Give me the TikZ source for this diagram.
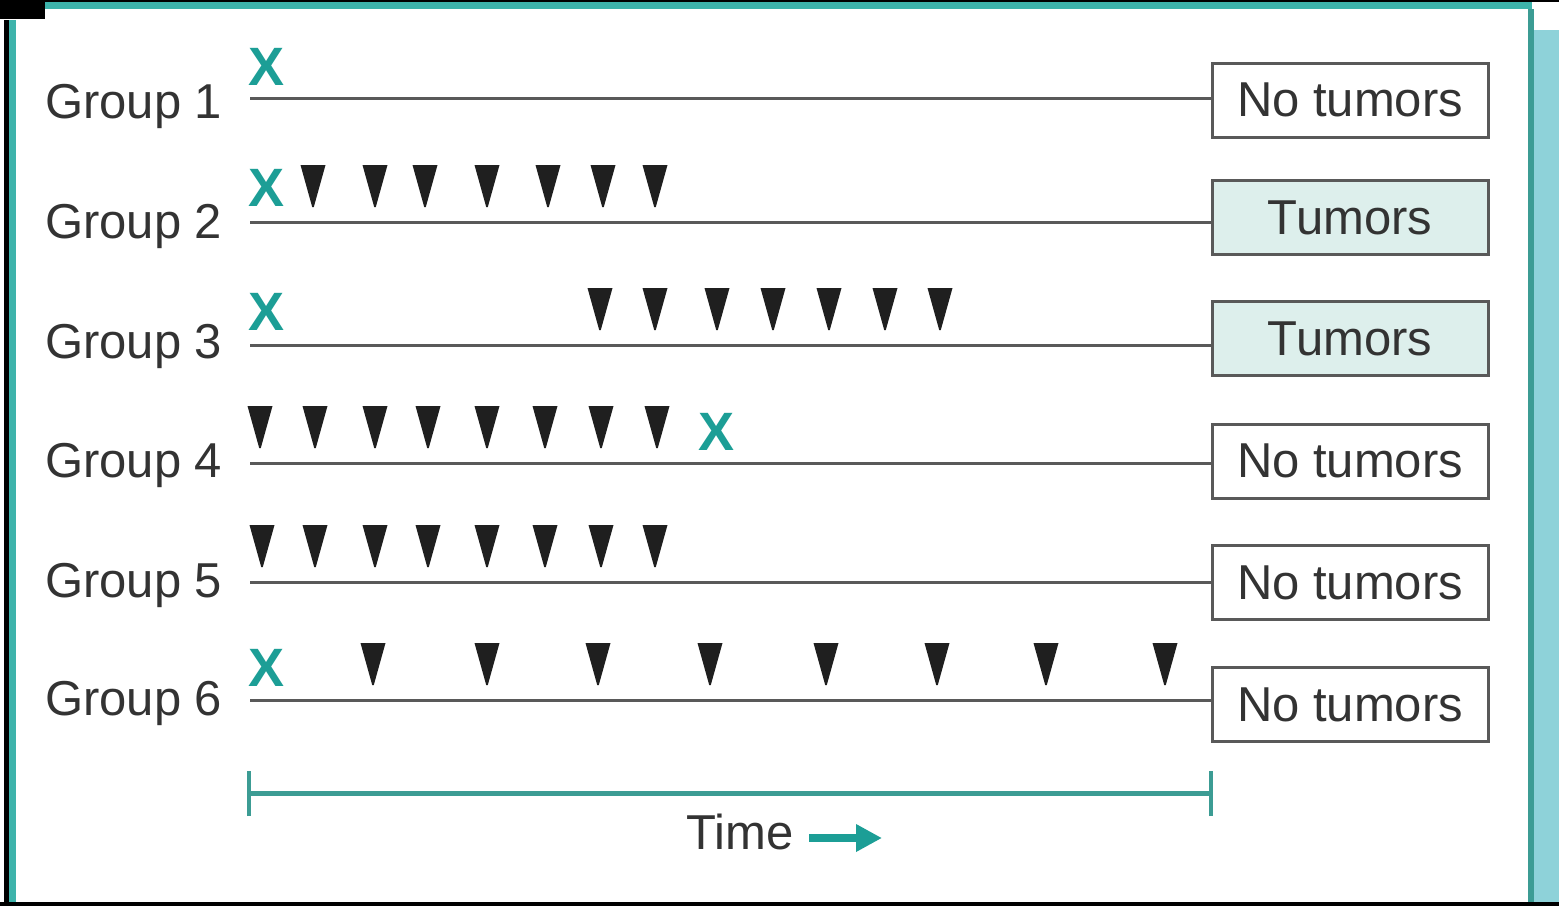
\documentclass[tikz,border=0pt]{standalone}
\usepackage{fontspec}
\setmainfont{Liberation Sans}
\usetikzlibrary{arrows.meta}
\definecolor{xteal}{HTML}{1C9E96}
\definecolor{frameteal}{HTML}{3DB3AB}
\definecolor{bandteal}{HTML}{8ED2D9}
\definecolor{tlteal}{HTML}{3C9C94}
\definecolor{boxfill}{HTML}{DDEFEC}
\definecolor{txt}{HTML}{333333}
\tikzset{
  grouplabel/.style={anchor=base west, inner sep=0pt, text=txt, font=\fontsize{49}{55}\selectfont},
  xmark/.style={inner sep=0pt, text=xteal, font=\fontsize{54}{60}\selectfont\bfseries},
  outcome/.style={draw=black!65, line width=3pt, minimum width=276pt, minimum height=74pt, inner sep=0pt, text=txt, font=\fontsize{49}{55}\selectfont},
  tumorbox/.style={outcome, fill=boxfill},
  plainbox/.style={outcome, fill=white},
  gline/.style={draw=black!65, line width=3pt},
  tri/.pic={\fill[black!88] (-12.5,-57) -- (12.5,-57) -- (0.8,-15) -- (-0.8,-15) -- cycle;}
}
\begin{document}
\begin{tikzpicture}[x=1pt,y=-1pt]
\useasboundingbox (0,0) rectangle (1559,906);
\fill[white] (0,0) rectangle (1559,906);
% frame
\fill[black] (0,0) rectangle (45,19);
\fill[black] (45,0) rectangle (1559,2);
\fill[frameteal] (45,2) rectangle (1532,9);
\fill[black] (4,20) rectangle (9,906);
\fill[frameteal] (9,20) rectangle (16,906);
\fill[bandteal] (1533,30) rectangle (1559,906);
\fill[tlteal] (1528,9) rectangle (1534,906);
\fill[black] (0,902) rectangle (1559,906);

% outcome boxes
\node[plainbox] (b1) at (1350,100) {No tumors};
\node[tumorbox] (b2) at (1350,217.5) {Tumors};
\node[tumorbox] (b3) at (1350,338.5) {Tumors};
\node[plainbox] (b4) at (1350,461) {No tumors};
\node[plainbox] (b5) at (1350,582.5) {No tumors};
\node[plainbox] (b6) at (1350,704.5) {No tumors};

% group labels
\node[grouplabel] (g1) at (45,118) {Group 1};
\node[grouplabel] (g2) at (45,238) {Group 2};
\node[grouplabel] (g3) at (45,358) {Group 3};
\node[grouplabel] (g4) at (45,477) {Group 4};
\node[grouplabel] (g5) at (45,597) {Group 5};
\node[grouplabel] (g6) at (45,715) {Group 6};

% lines
\coordinate (s1) at (250,98);
\coordinate (s2) at (250,222);
\coordinate (s3) at (250,345);
\coordinate (s4) at (250,463);
\coordinate (s5) at (250,582);
\coordinate (s6) at (250,700);
\foreach \i in {1,...,6} { \draw[gline] (s\i) -- (s\i -| b\i.west); }

% X marks
\node[xmark] (x1) at (267,67) {X};
\node[xmark] (x2) at (267,188) {X};
\node[xmark] (x3) at (267,312) {X};
\node[xmark] (x4) at (717,432) {X};
\node[xmark] (x6) at (267,668) {X};

% triangles
\foreach \x in {313,375,425,487,548,603,655} { \pic at (\x,222) {tri}; }
\foreach \x in {600,655,717,773,829,885,940} { \pic at (\x,345) {tri}; }
\foreach \x in {260,315,375,428,487,545,601,657} { \pic at (\x,463) {tri}; }
\foreach \x in {262,315,375,428,487,545,601,655} { \pic at (\x,582) {tri}; }
\foreach \x in {373,487,598,710,826,937,1046,1165} { \pic at (\x,700) {tri}; }

% time axis
\coordinate (t0) at (249,793);
\coordinate (t1) at (1211,793);
\draw[tlteal, line width=5pt] (t0) -- (t1);
\draw[tlteal, line width=4pt] ([yshift=-23pt]t0) -- ([yshift=22pt]t0);
\draw[tlteal, line width=4pt] ([yshift=-23pt]t1) -- ([yshift=22pt]t1);
\node[grouplabel] (time) at (686,849) {Time};
\coordinate (a0) at (809,838);
\coordinate (a1) at (882,838);
\draw[xteal, line width=8pt, -{Triangle[length=26pt,width=26pt]}] (a0) -- (a1);
\end{tikzpicture}
\end{document}
